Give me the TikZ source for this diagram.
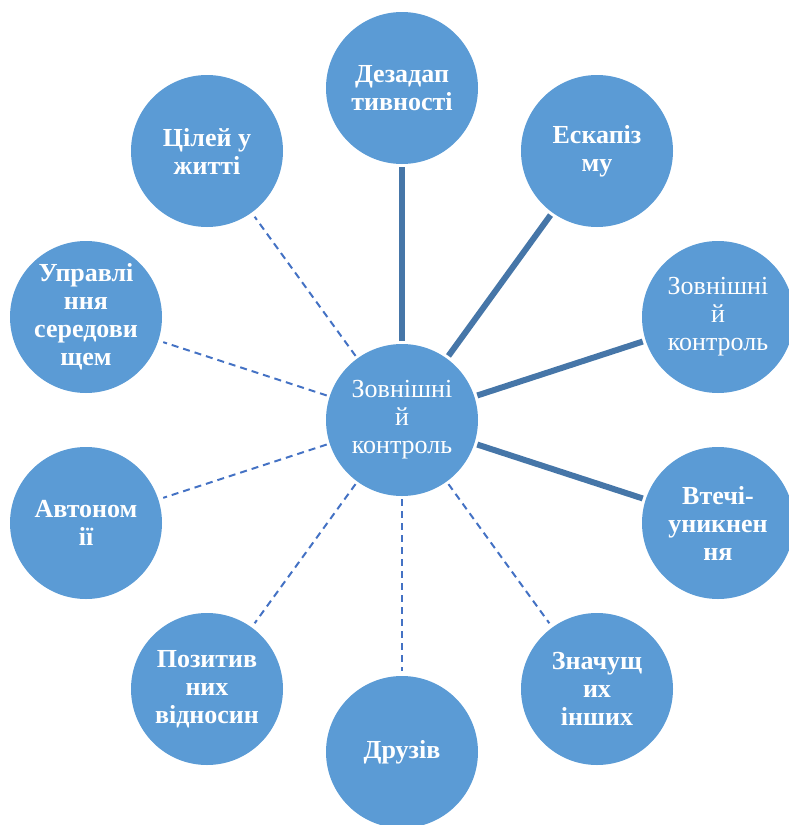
\documentclass[tikz,border=0pt]{standalone}
\usepackage{fontspec}
\setmainfont{Liberation Serif}
\definecolor{bubblefill}{HTML}{5B9BD5}
\definecolor{solidline}{HTML}{4676A8}
\definecolor{dashline}{HTML}{4472C4}
\tikzset{
  bubble/.style={circle, fill=bubblefill, draw=none, minimum size=152pt, inner sep=0pt},
  lbl/.style={text=white, align=center, inner sep=0pt, font=\fontsize{26}{28}\selectfont},
  blbl/.style={lbl, font=\fontsize{26}{28}\selectfont\bfseries},
  solidlink/.style={draw=solidline, line width=6pt, shorten <=3pt, shorten >=3pt},
  dashlink/.style={draw=dashline, line width=2pt, dash pattern=on 7pt off 5pt, shorten <=3pt, shorten >=5pt}
}
\begin{document}
\begin{tikzpicture}[x=1pt,y=-1pt]
\useasboundingbox (0,0) rectangle (789,825);
\node[bubble] (c) at (402,420) {};
\node[bubble] (n1) at (402,88) {};
\node[bubble] (n2) at (597,151) {};
\node[bubble] (n3) at (718,317) {};
\node[bubble] (n4) at (718,523) {};
\node[bubble] (n5) at (597,689) {};
\node[bubble] (n6) at (402,752) {};
\node[bubble] (n7) at (207,689) {};
\node[bubble] (n8) at (86,523) {};
\node[bubble] (n9) at (86,317) {};
\node[bubble] (n10) at (207,151) {};
\draw[solidlink] (c) -- (n1);
\draw[solidlink] (c) -- (n2);
\draw[solidlink] (c) -- (n3);
\draw[solidlink] (c) -- (n4);
\draw[dashlink] (c) -- (n5);
\draw[dashlink] (c) -- (n6);
\draw[dashlink] (c) -- (n7);
\draw[dashlink] (c) -- (n8);
\draw[dashlink] (c) -- (n9);
\draw[dashlink] (c) -- (n10);
\node[lbl] (tc) at (c) {Зовнішні\\й\\контроль};
\node[blbl] (t1) at (n1) {Дезадап\\тивності};
\node[blbl] (t2) at (n2) {Ескапіз\\му};
\node[lbl] (t3) at (n3) {Зовнішні\\й\\контроль};
\node[blbl] (t4) at (n4) {Втечі-\\уникнен\\ня};
\node[blbl] (t5) at (n5) {Значущ\\их\\інших};
\node[blbl] (t6) at (n6) {Друзів};
\node[blbl] (t7) at (n7) {Позитив\\них\\відносин};
\node[blbl] (t8) at (n8) {Автоном\\ії};
\node[blbl] (t9) at (n9) {Управлі\\ння\\середови\\щем};
\node[blbl] (t10) at (n10) {Цілей у\\житті};
\end{tikzpicture}
\end{document}
